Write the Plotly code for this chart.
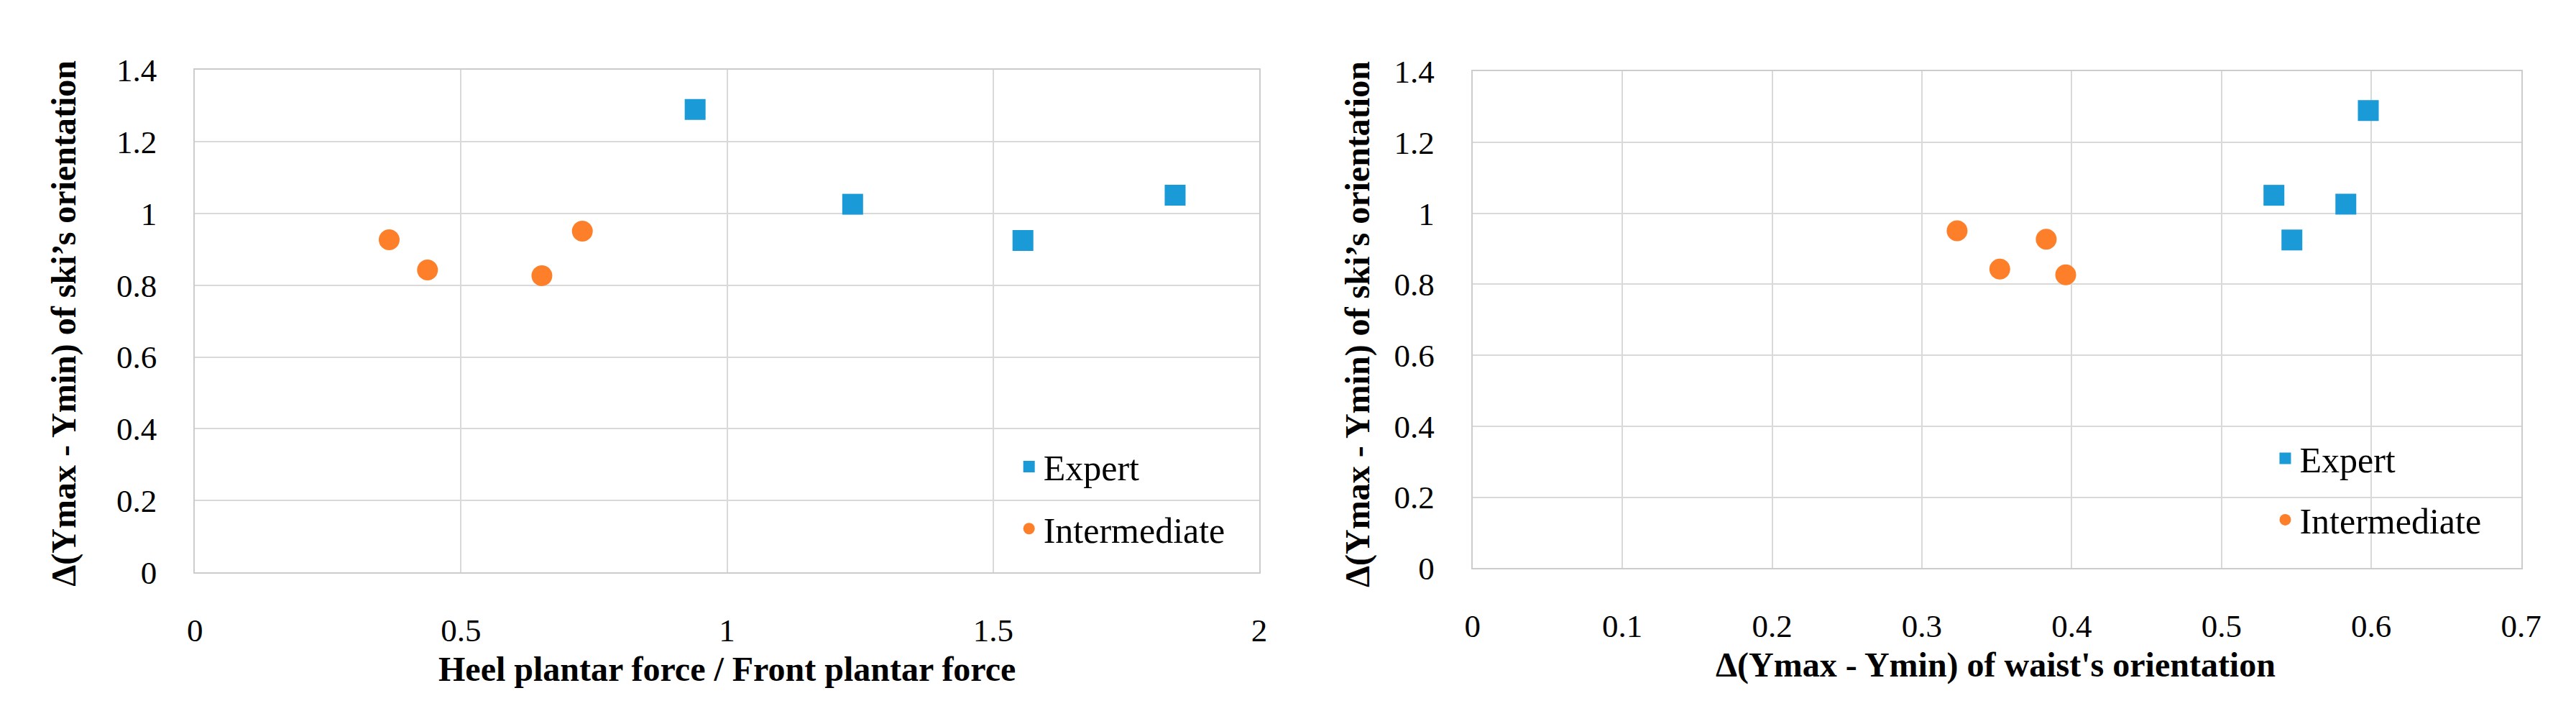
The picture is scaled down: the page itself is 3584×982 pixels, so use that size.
import plotly.graph_objects as go

# ---- data ----
groups = ["Expert", "Intermediate"]
expert_heel_front_ratio = [0.940, 1.236, 1.556, 1.842]
expert_waist_delta = [0.598, 0.583, 0.547, 0.535]
expert_ski_delta = [1.290, 1.026, 0.925, 1.051]

inter_heel_front_ratio = [0.365, 0.437, 0.652, 0.728]
inter_waist_delta = [0.383, 0.352, 0.396, 0.3235]
inter_ski_delta = [0.927, 0.843, 0.827, 0.951]

x1_ticks = [0, 0.5, 1, 1.5, 2]
x2_ticks = [0, 0.1, 0.2, 0.3, 0.4, 0.5, 0.6, 0.7]
y_ticks = [0, 0.2, 0.4, 0.6, 0.8, 1, 1.2, 1.4]

title_x1 = "Heel plantar force / Front plantar force"
title_x2 = "Δ(Ymax - Ymin) of waist's orientation"
title_y = "Δ(Ymax - Ymin) of ski’s orientation"

# ---- style ----
W, H = 3584, 982
BLUE = "#1A9AD7"
ORANGE = "#FE7F2A"
GRID = "#D9D9D9"
LINE = "#CCCCCC"
FONT = "Liberation Serif"
MSIZE = 29

def px_x(p):
    return p / W

def px_y(p):
    return 1 - p / H

fig = go.Figure()

fig.add_trace(go.Scatter(x=expert_heel_front_ratio, y=expert_ski_delta, mode="markers",
                         name=groups[0], xaxis="x", yaxis="y", legend="legend",
                         marker=dict(symbol="square", size=MSIZE, color=BLUE)))
fig.add_trace(go.Scatter(x=inter_heel_front_ratio, y=inter_ski_delta, mode="markers",
                         name=groups[1], xaxis="x", yaxis="y", legend="legend2",
                         marker=dict(symbol="circle", size=MSIZE, color=ORANGE)))
fig.add_trace(go.Scatter(x=expert_waist_delta, y=expert_ski_delta, mode="markers",
                         name=groups[0], xaxis="x2", yaxis="y2", legend="legend3",
                         marker=dict(symbol="square", size=MSIZE, color=BLUE)))
fig.add_trace(go.Scatter(x=inter_waist_delta, y=inter_ski_delta, mode="markers",
                         name=groups[1], xaxis="x2", yaxis="y2", legend="legend4",
                         marker=dict(symbol="circle", size=MSIZE, color=ORANGE)))

tickfont = dict(family=FONT, size=45, color="#000000")

def xaxis(domain, anchor, rng, ticks):
    return dict(domain=domain, anchor=anchor, range=rng, tickvals=ticks,
                showgrid=True, gridcolor=GRID, gridwidth=2, zeroline=False,
                showline=True, linecolor=LINE, linewidth=2, mirror=True,
                ticks="", tickfont=tickfont, ticklabelstandoff=40,
                fixedrange=True)

def yaxis(domain, anchor, rng, ticks):
    return dict(domain=domain, anchor=anchor, range=rng, tickvals=ticks,
                showgrid=True, gridcolor=GRID, gridwidth=2, zeroline=False,
                showline=True, linecolor=LINE, linewidth=2, mirror=True,
                ticks="", tickfont=tickfont, ticklabelstandoff=42,
                fixedrange=True)

legend_common = dict(font=dict(family=FONT, size=50, color="#000000"),
                     bgcolor="rgba(0,0,0,0)", borderwidth=0,
                     xanchor="left", yanchor="middle", itemwidth=30)

fig.update_layout(
    width=W, height=H,
    margin=dict(l=0, r=0, t=0, b=0),
    paper_bgcolor="white", plot_bgcolor="white",
    xaxis=xaxis([px_x(255), px_x(1752)], "y", [0, 2], x1_ticks),
    yaxis=yaxis([px_y(805), px_y(69)], "x", [0, 1.4], y_ticks),
    xaxis2=xaxis([px_x(2052), px_x(3527)], "y2", [0, 0.7], x2_ticks),
    yaxis2=yaxis([px_y(799), px_y(71)], "x2", [0, 1.4], y_ticks),
    legend=dict(x=px_x(1430 - 22), y=px_y(650), **legend_common),
    legend2=dict(x=px_x(1430 - 22), y=px_y(741), **legend_common),
    legend3=dict(x=px_x(3197 - 22), y=px_y(638), **legend_common),
    legend4=dict(x=px_x(3197 - 22), y=px_y(728), **legend_common),
    showlegend=True,
)

title_font = dict(family=FONT, size=48, color="#000000")
fig.add_annotation(text="<b>" + title_x1 + "</b>", xref="paper", yref="paper",
                   x=px_x(1003), y=px_y(947), xanchor="center", yanchor="middle",
                   showarrow=False, font=title_font)
fig.add_annotation(text="<b>" + title_x2 + "</b>", xref="paper", yref="paper",
                   x=px_x(2788), y=px_y(941), xanchor="center", yanchor="middle",
                   showarrow=False, font=title_font)
fig.add_annotation(text="<b>" + title_y + "</b>", xref="paper", yref="paper",
                   x=px_x(70), y=px_y(440), xanchor="center", yanchor="middle",
                   textangle=-90, showarrow=False,
                   font=dict(family=FONT, size=48, color="#000000"))
fig.add_annotation(text="<b>" + title_y + "</b>", xref="paper", yref="paper",
                   x=px_x(1890), y=px_y(441), xanchor="center", yanchor="middle",
                   textangle=-90, showarrow=False,
                   font=dict(family=FONT, size=48, color="#000000"))

fig.write_html("out.html")
